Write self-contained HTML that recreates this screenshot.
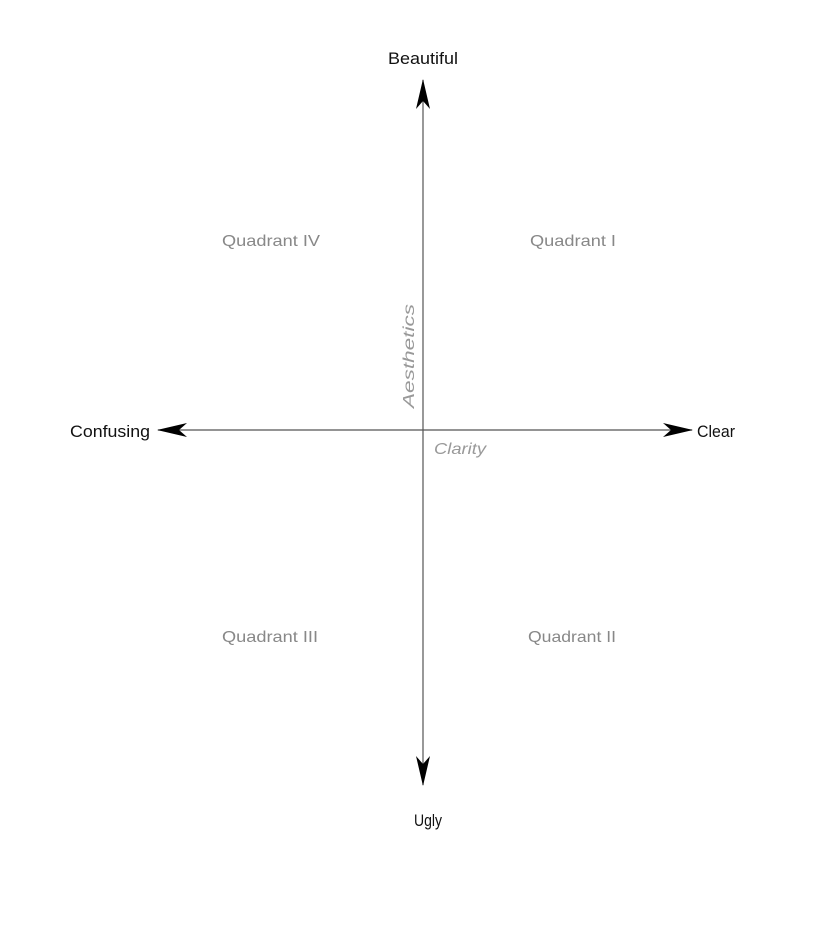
<!DOCTYPE html>
<html><head><meta charset="utf-8"><style>html,body{margin:0;padding:0;background:#fff}svg{display:block}</style></head>
<body>
<svg width="824" height="932" font-family="'Liberation Sans', sans-serif">
<defs>
<marker id="ah" viewBox="0 0 30 16" refX="29" refY="8" markerWidth="30" markerHeight="16" markerUnits="userSpaceOnUse" orient="auto">
<path d="M0,1 L30,8 L0,15 L8,8 Z" fill="#000"/>
</marker>
</defs>
<g>
<line x1="423" y1="431" x2="423" y2="80" stroke="#555" stroke-width="1.2" marker-end="url(#ah)"/>
<line x1="423" y1="431" x2="423" y2="785" stroke="#555" stroke-width="1.2" marker-end="url(#ah)"/>
</g>
<g>
<line x1="423" y1="430" x2="158" y2="430" stroke="#555" stroke-width="1.2" marker-end="url(#ah)"/>
<line x1="423" y1="430" x2="692" y2="430" stroke="#555" stroke-width="1.2" marker-end="url(#ah)"/>
</g>
<text x="388" y="64" font-size="17" textLength="70" lengthAdjust="spacingAndGlyphs" fill="#111">Beautiful</text>
<text x="414" y="826" font-size="17" textLength="28" lengthAdjust="spacingAndGlyphs" fill="#111">Ugly</text>
<text x="70" y="437" font-size="17" textLength="80" lengthAdjust="spacingAndGlyphs" fill="#111">Confusing</text>
<text x="697" y="437" font-size="17" textLength="38" lengthAdjust="spacingAndGlyphs" fill="#111">Clear</text>
<text x="222" y="246" font-size="16" textLength="98" lengthAdjust="spacingAndGlyphs" fill="#888">Quadrant IV</text>
<text x="530" y="246" font-size="16" textLength="86" lengthAdjust="spacingAndGlyphs" fill="#888">Quadrant I</text>
<text x="222" y="642" font-size="16" textLength="96" lengthAdjust="spacingAndGlyphs" fill="#888">Quadrant III</text>
<text x="528" y="642" font-size="16" textLength="88" lengthAdjust="spacingAndGlyphs" fill="#888">Quadrant II</text>
<text x="434" y="454" font-size="16" font-style="italic" textLength="52" lengthAdjust="spacingAndGlyphs" fill="#999">Clarity</text>
<text transform="translate(414,408) rotate(-90)" font-size="16" font-style="italic" textLength="104" lengthAdjust="spacingAndGlyphs" fill="#999">Aesthetics</text>
</svg>
</body></html>
